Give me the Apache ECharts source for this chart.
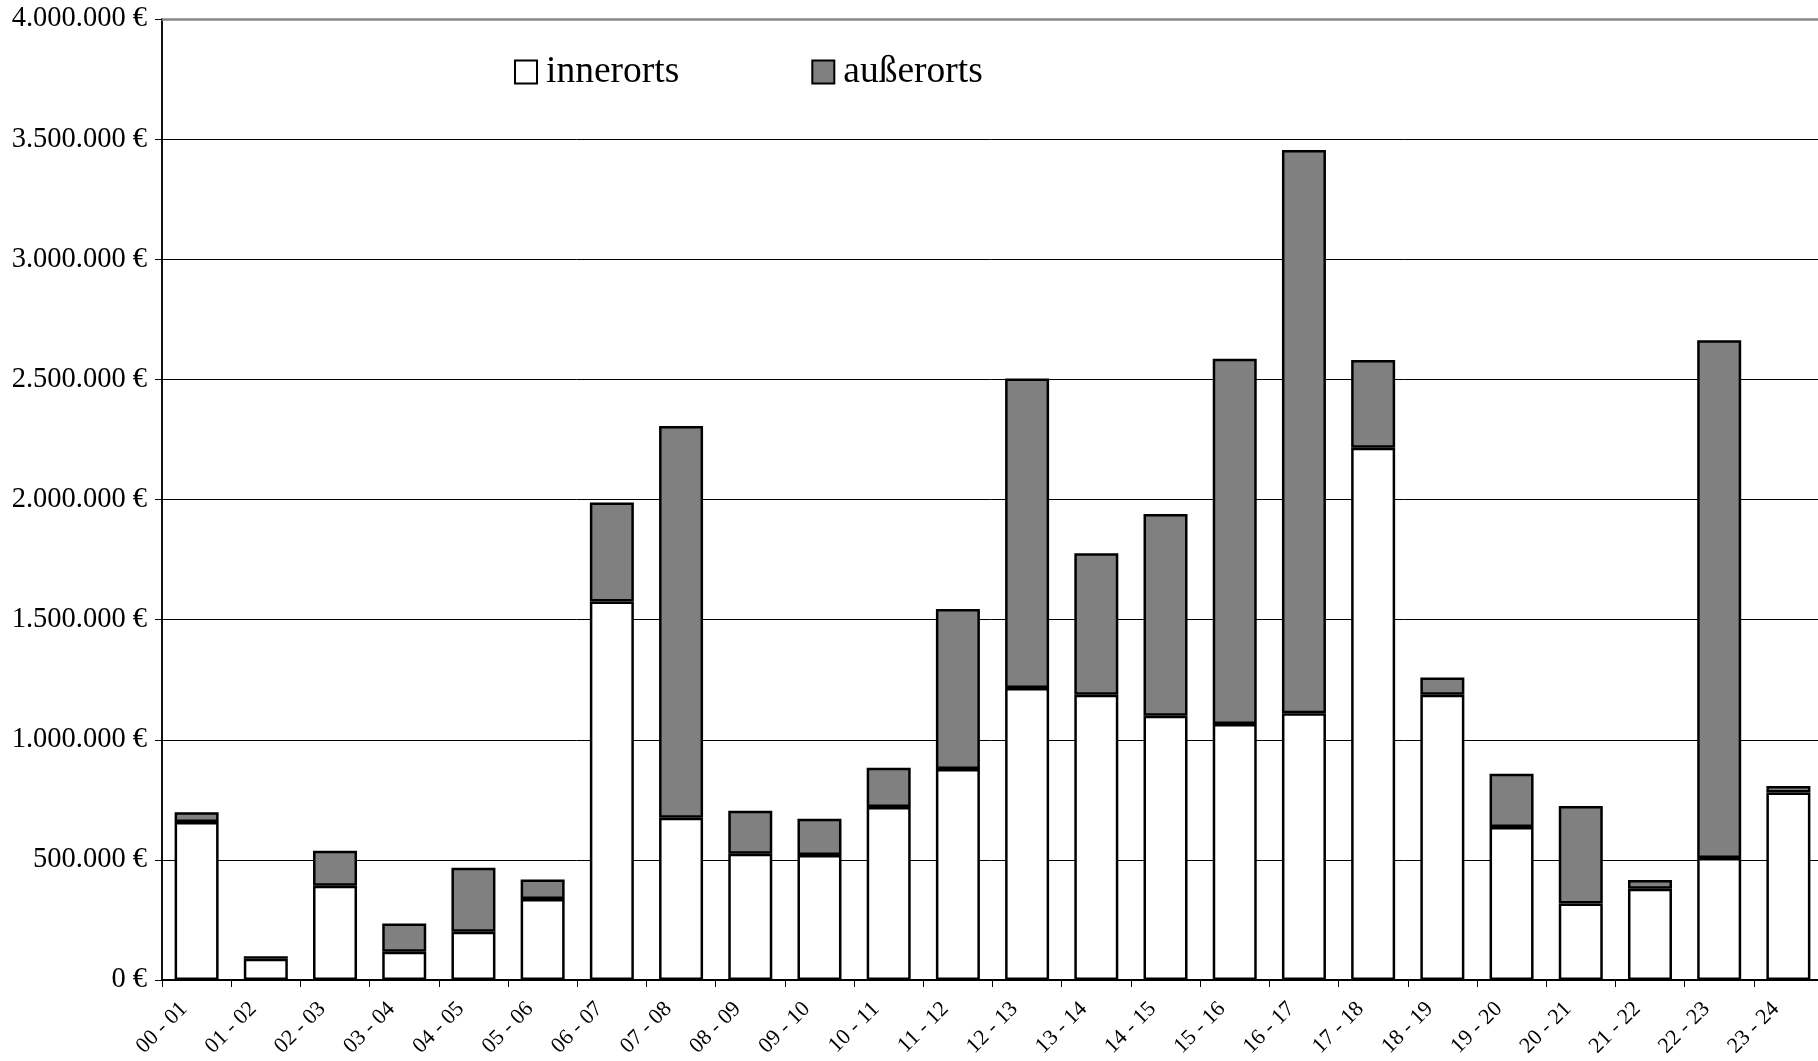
<!DOCTYPE html>
<html>
<head>
<meta charset="utf-8">
<script src="https://cdn.jsdelivr.net/npm/echarts@6/dist/echarts.min.js"></script>
<style>
html,body{margin:0;padding:0;background:#fff;overflow:hidden;}
#c{width:1818px;height:1061px;}
</style>
</head>
<body>
<div id="c"></div>
<script>
const categories = ["00 - 01","01 - 02","02 - 03","03 - 04","04 - 05","05 - 06","06 - 07","07 - 08","08 - 09","09 - 10","10 - 11","11 - 12","12 - 13","13 - 14","14 - 15","15 - 16","16 - 17","17 - 18","18 - 19","19 - 20","20 - 21","21 - 22","22 - 23","23 - 24"];
const innerorts = [658000, 88000, 392000, 118000, 201000, 337000, 1575000, 675000, 525000, 520000, 720000, 878000, 1215000, 1187000, 1100000, 1066000, 1110000, 2215000, 1187000, 637000, 318000, 380000, 508000, 780000];
const ausserorts = [40000, 11000, 146000, 117000, 266000, 81000, 413000, 1631000, 179000, 151000, 163000, 666000, 1289000, 589000, 840000, 1520000, 2345000, 366000, 72000, 222000, 406000, 36000, 2155000, 28000];
const yTicks = {min: 0, max: 4000000, interval: 500000};

function fmt(v){
  const s = String(Math.round(v));
  return s.replace(/\B(?=(\d{3})+(?!\d))/g, '.') + ' €';
}

const chart = echarts.init(document.getElementById('c'), null, {renderer: 'canvas'});
const font = '"Liberation Serif", "Times New Roman", serif';
chart.setOption({
  animation: false,
  backgroundColor: '#fff',
  textStyle: {fontFamily: font, color: '#000'},
  grid: {left: 162, right: -5, top: 19, bottom: 81, containLabel: false, outerBoundsMode: 'none'},
  legend: {
    left: 509, top: 47,
    itemWidth: 22, itemHeight: 23, itemGap: 132,
    icon: 'rect',
    textStyle: {fontFamily: font, fontSize: 37.5, lineHeight: 40, color: '#000', padding: [0, 0, 0, 4]},
    data: ['innerorts', 'außerorts']
  },
  xAxis: [{
    type: 'category',
    data: categories,
    axisLine: {lineStyle: {color: '#000', width: 2}},
    axisTick: {show: true, length: 7, lineStyle: {color: '#000', width: 1}},
    axisLabel: {rotate: 45, interval: 0, fontFamily: font, fontSize: 22, color: '#000', margin: 13, padding: [0, 18, 0, 0]},
    splitLine: {show: false}
  }, {
    type: 'category',
    position: 'top',
    data: categories,
    axisLine: {show: true, lineStyle: {color: '#888', width: 2.5}},
    axisTick: {show: false},
    axisLabel: {show: false}
  }],
  yAxis: {
    type: 'value',
    min: yTicks.min, max: yTicks.max, interval: yTicks.interval,
    axisLine: {show: true, lineStyle: {color: '#111', width: 2}},
    axisTick: {show: true, length: 7, lineStyle: {color: '#000', width: 1}},
    axisLabel: {fontFamily: font, fontSize: 28.5, color: '#000', margin: 15, formatter: fmt},
    splitLine: {show: true, lineStyle: {color: '#000', width: 1}}
  },
  series: [{
    name: 'innerorts', type: 'bar', stack: 'a', data: innerorts,
    barWidth: 44,
    itemStyle: {color: '#ffffff', borderColor: '#000', borderWidth: 2.5}
  }, {
    name: 'außerorts', type: 'bar', stack: 'a', data: ausserorts,
    barWidth: 44,
    itemStyle: {color: '#808080', borderColor: '#000', borderWidth: 2.5}
  }]
});
</script>
</body>
</html>
